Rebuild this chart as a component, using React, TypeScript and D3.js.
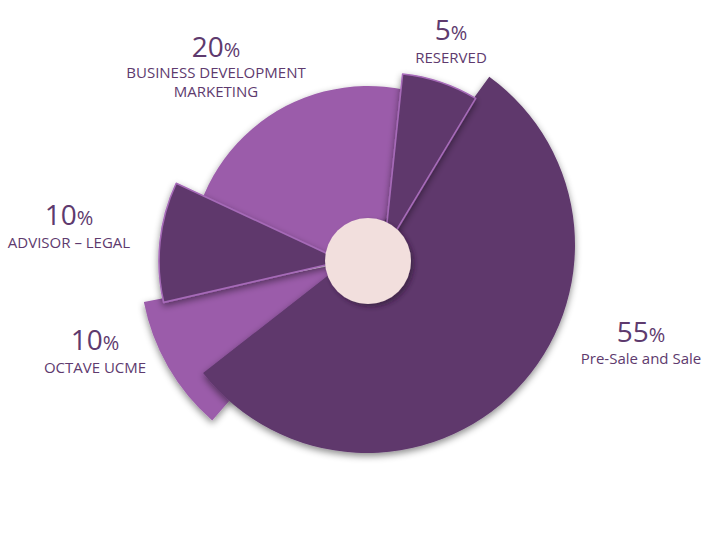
import React from 'react';
import * as d3 from 'd3';

// ---- data ----
const categories = ['Pre-Sale and Sale', 'OCTAVE UCME', 'ADVISOR – LEGAL', 'BUSINESS DEVELOPMENT|MARKETING', 'RESERVED'];
const shares = [55, 10, 10, 20, 5];

// ---- style / layout (not data) ----
const W = 710, H = 552;
const CX = 368, CY = 261;
const DARK = '#5f386c';
const LIGHT = '#9b5caa';
const EDGE = '#a66bb8';
const TEXT = '#5e3a6e';
const HUB = '#f2dfdd';
const START_DEG = 34;
// per-slice drawing style: radius, explode offset, angular tweak (deg), stacking order, border
const sliceStyle = [
  { fill: DARK, r: 208, dx: -1, dy: -16, a0: 2, a1: 0, z: 4, border: false },
  { fill: LIGHT, r: 210, dx: -18, dy: 1, a0: -11, a1: -9, z: 2, border: false },
  { fill: DARK, r: 184, dx: -25, dy: 0, a0: -11, a1: -9, z: 3, border: true },
  { fill: LIGHT, r: 178, dx: 0, dy: 3, a0: -24, a1: 9, z: 1, border: false },
  { fill: DARK, r: 178, dx: 16, dy: -10, a0: -10, a1: -3, z: 5, border: true },
];
const labelStyle = [
  { x: 641, y: 342, gap: 22 },
  { x: 95, y: 350, gap: 23 },
  { x: 69, y: 225, gap: 23 },
  { x: 216, y: 57, gap: 21 },
  { x: 451, y: 40, gap: 23 },
];

const deg = Math.PI / 180;

export default function App() {
  const pie = d3
    .pie<number>()
    .sort(null)
    .value((d) => d)
    .startAngle(START_DEG * deg)
    .endAngle(START_DEG * deg + 2 * Math.PI);
  const arcs = pie(shares);
  const arcGen = d3.arc<any>();

  const slices = arcs.map((a, i) => {
    const s = sliceStyle[i];
    const path = arcGen({
      innerRadius: 0,
      outerRadius: s.r,
      startAngle: a.startAngle + s.a0 * deg,
      endAngle: a.endAngle + s.a1 * deg,
    }) as string;
    return { i, path, s };
  });
  const ordered = [...slices].sort((a, b) => a.s.z - b.s.z);

  const fontFamily = "'Open Sans', 'Segoe UI', sans-serif";

  return (
    <svg
      width={W}
      height={H}
      style={{ position: 'absolute', left: 0, top: 0, display: 'block', background: '#fff' }}
    >
      <defs>
        <filter id="sh" x="-30%" y="-30%" width="160%" height="160%">
          <feDropShadow dx="0" dy="3" stdDeviation="3.5" floodColor="#000" floodOpacity="0.45" />
        </filter>
        <filter id="hubsh" x="-40%" y="-40%" width="180%" height="180%">
          <feDropShadow dx="3" dy="3" stdDeviation="2.5" floodColor="#2a1030" floodOpacity="0.55" />
        </filter>
      </defs>
      <g>
        {ordered.map(({ i, path, s }) => (
          <path
            key={i}
            d={path}
            transform={`translate(${CX + s.dx},${CY + s.dy})`}
            fill={s.fill}
            stroke={s.border ? EDGE : 'none'}
            strokeWidth={s.border ? 1.6 : 0}
            strokeLinejoin="round"
            filter="url(#sh)"
          />
        ))}
      </g>
      <circle cx={CX} cy={CY} r={43} fill={HUB} filter="url(#hubsh)" />
      <g fontFamily={fontFamily} fill={TEXT} textAnchor="middle">
        {categories.map((c, i) => {
          const l = labelStyle[i];
          const lines = c.split('|');
          return (
            <g key={c}>
              <text x={l.x} y={l.y}>
                <tspan fontSize={28}>{shares[i]}</tspan>
                <tspan fontSize={20}>%</tspan>
              </text>
              {lines.map((ln, k) => (
                <text key={k} x={l.x} y={l.y + l.gap + k * 19} fontSize={15}>
                  {ln}
                </text>
              ))}
            </g>
          );
        })}
      </g>
    </svg>
  );
}
